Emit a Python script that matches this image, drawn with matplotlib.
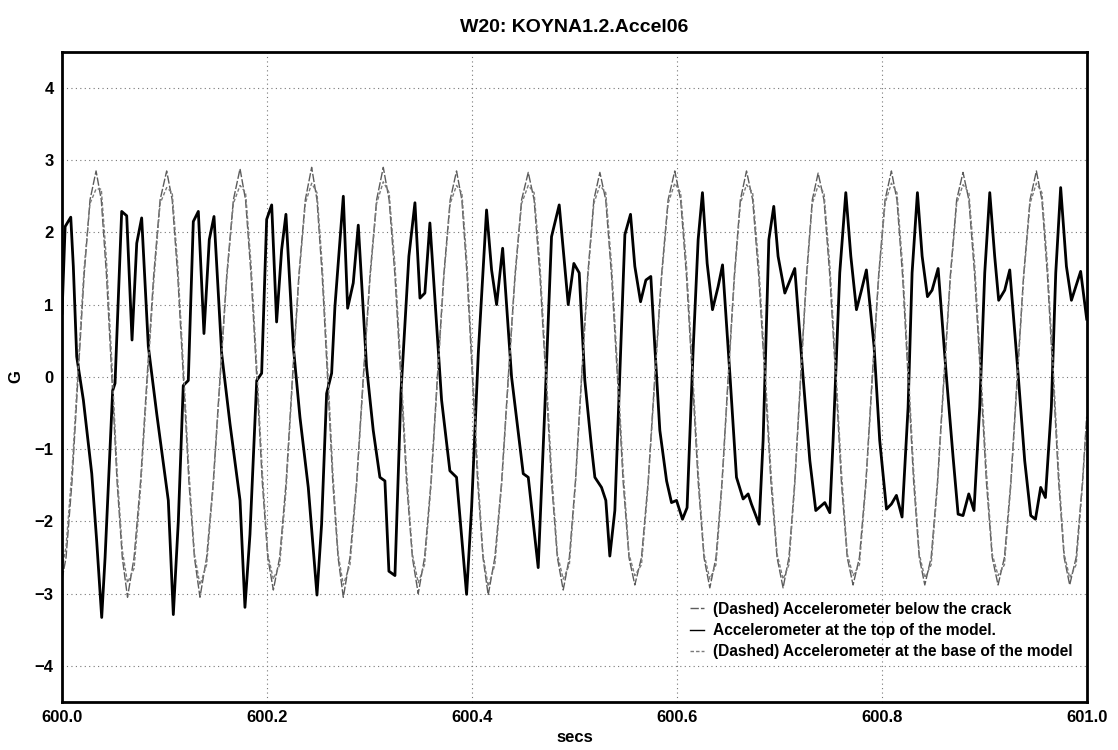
import matplotlib.pyplot as plt

# sample times shared by the two dashed accelerometer traces (s)
t_dash = [
    600.0000, 600.0039, 600.0097, 600.0156, 600.0215, 600.0273, 600.0332,
    600.0383, 600.0434, 600.0486, 600.0537, 600.0588, 600.0639,
    600.0703, 600.0766, 600.0830, 600.0894, 600.0957, 600.1021,
    600.1075, 600.1129, 600.1184, 600.1238, 600.1292, 600.1346,
    600.1411, 600.1476, 600.1542, 600.1607, 600.1672, 600.1737,
    600.1791, 600.1845, 600.1900, 600.1954, 600.2008, 600.2062,
    600.2124, 600.2187, 600.2249, 600.2311, 600.2374, 600.2436,
    600.2488, 600.2539, 600.2591, 600.2642, 600.2694, 600.2745,
    600.2810, 600.2875, 600.2940, 600.3005, 600.3070, 600.3135,
    600.3192, 600.3249, 600.3306, 600.3362, 600.3419, 600.3476,
    600.3538, 600.3601, 600.3663, 600.3725, 600.3788, 600.3850,
    600.3902, 600.3953, 600.4005, 600.4056, 600.4108, 600.4159,
    600.4224, 600.4290, 600.4355, 600.4420, 600.4485, 600.4550,
    600.4607, 600.4664, 600.4721, 600.4777, 600.4834, 600.4891,
    600.4951, 600.5010, 600.5070, 600.5130, 600.5190, 600.5249,
    600.5306, 600.5363, 600.5420, 600.5476, 600.5533, 600.5590,
    600.5655, 600.5720, 600.5785, 600.5850, 600.5915, 600.5980,
    600.6037, 600.6094, 600.6151, 600.6208, 600.6265, 600.6322,
    600.6382, 600.6441, 600.6501, 600.6561, 600.6620, 600.6680,
    600.6740, 600.6799, 600.6859, 600.6918, 600.6978, 600.7037,
    600.7094, 600.7151, 600.7208, 600.7265, 600.7322, 600.7379,
    600.7436, 600.7493, 600.7550, 600.7606, 600.7663, 600.7720,
    600.7782, 600.7845, 600.7907, 600.7969, 600.8032, 600.8094,
    600.8148, 600.8203, 600.8257, 600.8311, 600.8366, 600.8420,
    600.8482, 600.8544, 600.8607, 600.8669, 600.8731, 600.8793,
    600.8850, 600.8907, 600.8964, 600.9021, 600.9078, 600.9135,
    600.9197, 600.9260, 600.9322, 600.9384, 600.9447, 600.9509,
    600.9563, 600.9617, 600.9672, 600.9726, 600.9780, 600.9834,
    600.9897, 600.9959, 601.0000,
]

# (Dashed) accelerometer below the crack (G)
accel_crack = [
    -2.80, -2.50, -1.45, 0.00, 1.40, 2.45, 2.85,
    2.45, 1.40, 0.00, -1.45, -2.50, -3.05,
    -2.50, -1.45, 0.00, 1.40, 2.45, 2.85,
    2.45, 1.40, 0.00, -1.45, -2.50, -3.05,
    -2.50, -1.45, 0.00, 1.40, 2.45, 2.88,
    2.45, 1.40, 0.00, -1.45, -2.50, -2.95,
    -2.50, -1.45, 0.00, 1.40, 2.45, 2.90,
    2.45, 1.40, 0.00, -1.45, -2.50, -3.05,
    -2.50, -1.45, 0.00, 1.40, 2.45, 2.90,
    2.45, 1.40, 0.00, -1.45, -2.50, -3.00,
    -2.50, -1.45, 0.00, 1.40, 2.45, 2.85,
    2.45, 1.40, 0.00, -1.45, -2.50, -3.02,
    -2.50, -1.45, 0.00, 1.40, 2.45, 2.83,
    2.45, 1.40, 0.00, -1.45, -2.50, -2.95,
    -2.50, -1.45, 0.00, 1.40, 2.45, 2.83,
    2.45, 1.40, 0.00, -1.45, -2.50, -2.88,
    -2.50, -1.45, 0.00, 1.40, 2.45, 2.85,
    2.45, 1.40, 0.00, -1.45, -2.50, -2.92,
    -2.50, -1.45, 0.00, 1.40, 2.45, 2.85,
    2.45, 1.40, 0.00, -1.45, -2.50, -2.92,
    -2.50, -1.45, 0.00, 1.40, 2.45, 2.82,
    2.45, 1.40, 0.00, -1.45, -2.50, -2.88,
    -2.50, -1.45, 0.00, 1.40, 2.45, 2.85,
    2.45, 1.40, 0.00, -1.45, -2.50, -2.88,
    -2.50, -1.45, 0.00, 1.40, 2.45, 2.83,
    2.45, 1.40, 0.00, -1.45, -2.50, -2.88,
    -2.50, -1.45, 0.00, 1.40, 2.45, 2.85,
    2.45, 1.40, 0.00, -1.45, -2.50, -2.88,
    -2.50, -1.45, -0.55,
]

# (Dashed) accelerometer at the base of the model (G)
accel_base = [
    -2.65, -2.35, -1.30, 0.10, 1.50, 2.40, 2.60,
    2.60, 1.60, 0.20, -1.30, -2.40, -2.85,
    -2.65, -1.55, -0.10, 1.30, 2.40, 2.62,
    2.55, 1.55, 0.15, -1.30, -2.45, -2.88,
    -2.60, -1.50, -0.05, 1.35, 2.40, 2.65,
    2.55, 1.55, 0.15, -1.30, -2.45, -2.80,
    -2.60, -1.55, -0.05, 1.35, 2.40, 2.68,
    2.55, 1.55, 0.15, -1.30, -2.45, -2.88,
    -2.60, -1.50, -0.05, 1.35, 2.40, 2.70,
    2.55, 1.55, 0.15, -1.30, -2.45, -2.85,
    -2.60, -1.50, -0.05, 1.35, 2.40, 2.65,
    2.55, 1.55, 0.15, -1.30, -2.45, -2.90,
    -2.60, -1.50, -0.05, 1.35, 2.40, 2.65,
    2.55, 1.55, 0.15, -1.30, -2.45, -2.80,
    -2.60, -1.50, -0.05, 1.35, 2.40, 2.65,
    2.55, 1.55, 0.15, -1.30, -2.45, -2.75,
    -2.60, -1.50, -0.05, 1.35, 2.40, 2.68,
    2.55, 1.55, 0.15, -1.30, -2.45, -2.80,
    -2.60, -1.50, -0.05, 1.35, 2.40, 2.66,
    2.55, 1.55, 0.15, -1.30, -2.45, -2.80,
    -2.60, -1.50, -0.05, 1.35, 2.40, 2.65,
    2.55, 1.55, 0.15, -1.30, -2.45, -2.75,
    -2.60, -1.50, -0.05, 1.35, 2.40, 2.68,
    2.55, 1.55, 0.15, -1.30, -2.45, -2.78,
    -2.60, -1.50, -0.05, 1.35, 2.40, 2.66,
    2.55, 1.55, 0.15, -1.30, -2.45, -2.75,
    -2.60, -1.50, -0.05, 1.35, 2.40, 2.68,
    2.55, 1.55, 0.15, -1.30, -2.45, -2.78,
    -2.60, -1.50, -0.60,
]

# accelerometer at the top of the model (solid)
t_top = [
    600.0000, 600.0030, 600.0085, 600.0110, 600.0143, 600.0208, 600.0290,
    600.0338, 600.0387, 600.0420, 600.0468, 600.0494, 600.0517, 600.0582,
    600.0631, 600.0683, 600.0729, 600.0777, 600.0842, 600.0924, 600.1037,
    600.1086, 600.1135, 600.1183, 600.1232, 600.1281, 600.1330, 600.1385,
    600.1437, 600.1483, 600.1558, 600.1639, 600.1737, 600.1785, 600.1834,
    600.1900, 600.1948, 600.1997, 600.2046, 600.2094, 600.2143, 600.2185,
    600.2257, 600.2322, 600.2403, 600.2488, 600.2533, 600.2582, 600.2631,
    600.2663, 600.2745, 600.2787, 600.2842, 600.2891, 600.2972, 600.3037,
    600.3102, 600.3151, 600.3190, 600.3249, 600.3307, 600.3385, 600.3444,
    600.3493, 600.3541, 600.3590, 600.3704, 600.3785, 600.3850, 600.3948,
    600.3997, 600.4062, 600.4143, 600.4192, 600.4241, 600.4300, 600.4387,
    600.4501, 600.4550, 600.4647, 600.4712, 600.4777, 600.4852, 600.4940,
    600.4995, 600.5047, 600.5102, 600.5167, 600.5200, 600.5265, 600.5307,
    600.5346, 600.5395, 600.5444, 600.5493, 600.5548, 600.5590, 600.5646,
    600.5698, 600.5746, 600.5785, 600.5834, 600.5900, 600.5948, 600.5997,
    600.6055, 600.6100, 600.6159, 600.6208, 600.6250, 600.6296, 600.6348,
    600.6403, 600.6446, 600.6517, 600.6582, 600.6647, 600.6696, 600.6728,
    600.6803, 600.6842, 600.6898, 600.6946, 600.6988, 600.7054, 600.7151,
    600.7232, 600.7298, 600.7356, 600.7444, 600.7493, 600.7525, 600.7590,
    600.7649, 600.7698, 600.7753, 600.7802, 600.7850, 600.7925, 600.7980,
    600.8046, 600.8094, 600.8143, 600.8198, 600.8257, 600.8296, 600.8348,
    600.8394, 600.8446, 600.8491, 600.8550, 600.8631, 600.8696, 600.8745,
    600.8793, 600.8849, 600.8900, 600.8956, 600.9005, 600.9054, 600.9102,
    600.9141, 600.9200, 600.9249, 600.9330, 600.9395, 600.9454, 600.9500,
    600.9551, 600.9597, 600.9655, 600.9698, 600.9746, 600.9802, 600.9851,
    600.9941, 601.0000,
]
accel_top = [
    0.88, 2.08, 2.21, 1.53, 0.28, -0.32, -1.34,
    -2.27, -3.33, -2.50, -1.02, -0.19, -0.09, 2.29,
    2.23, 0.51, 1.85, 2.20, 0.42, -0.51, -1.71,
    -3.29, -1.99, -0.12, -0.05, 2.15, 2.29, 0.60,
    1.90, 2.22, 0.32, -0.65, -1.71, -3.19, -2.18,
    -0.05, 0.05, 2.18, 2.38, 0.76, 1.76, 2.25,
    0.42, -0.56, -1.53, -3.02, -2.04, -0.23, 0.05,
    0.97, 2.50, 0.95, 1.30, 2.10, 0.14, -0.74,
    -1.39, -1.44, -2.69, -2.75, -0.23, 1.67, 2.41,
    1.09, 1.16, 2.13, -0.32, -1.30, -1.39, -3.01,
    -1.81, 0.32, 2.31, 1.48, 1.00, 1.78, 0.00,
    -1.34, -1.39, -2.64, -0.42, 1.94, 2.38, 1.00,
    1.57, 1.44, -0.05, -0.97, -1.39, -1.53, -1.71,
    -2.48, -1.85, 0.05, 1.97, 2.25, 1.53, 1.04,
    1.34, 1.39, 0.42, -0.74, -1.44, -1.74, -1.71,
    -1.97, -1.81, 0.37, 1.90, 2.55, 1.57, 0.93,
    1.25, 1.55, 0.05, -1.39, -1.69, -1.62, -1.76,
    -2.04, -0.88, 1.90, 2.36, 1.67, 1.16, 1.50,
    0.00, -1.16, -1.85, -1.74, -1.88, -0.88, 1.44,
    2.55, 1.67, 0.93, 1.20, 1.48, 0.42, -0.88,
    -1.83, -1.76, -1.64, -1.94, -0.42, 1.44, 2.55,
    1.67, 1.11, 1.20, 1.50, 0.00, -1.11, -1.90,
    -1.92, -1.62, -1.85, -0.42, 1.44, 2.55, 1.67,
    1.06, 1.20, 1.48, 0.05, -1.16, -1.92, -1.97,
    -1.53, -1.67, -0.42, 1.44, 2.62, 1.53, 1.06,
    1.46, 0.80,
]

x_ticks = [600.0, 600.2, 600.4, 600.6, 600.8, 601.0]
y_ticks = [-4, -3, -2, -1, 0, 1, 2, 3, 4]

plt.rcParams['font.family'] = ['Liberation Sans', 'DejaVu Sans']
plt.rcParams['font.weight'] = 'bold'

fig, ax = plt.subplots(figsize=(11.18, 7.5), dpi=100)
fig.subplots_adjust(left=0.0555, right=0.972, bottom=0.064, top=0.931)

ax.plot(t_dash, accel_crack, color='#5c5c5c', lw=1.0, ls=(0, (6, 1.5)),
        label='(Dashed) Accelerometer below the crack')
ax.plot(t_top, accel_top, color='black', lw=2.0,
        label='Accelerometer at the top of the model.')
ax.plot(t_dash, accel_base, color='#7a7a7a', lw=1.0, ls=(0, (2.5, 1.5)),
        label='(Dashed) Accelerometer at the base of the model')

ax.set_xlim(600.0, 601.0)
ax.set_ylim(-4.5, 4.5)
ax.set_xticks(x_ticks)
ax.set_xticklabels([f'{v:.1f}' for v in x_ticks])
ax.set_yticks(y_ticks)
ax.tick_params(length=0, labelsize=12, pad=6)
ax.grid(True, color='#777777', ls=(0, (1, 3)), lw=0.8)
for s in ax.spines.values():
    s.set_linewidth(2)

ax.set_title('W20: KOYNA1.2.Accel06', fontsize=14, fontweight='bold', pad=14)
ax.set_xlabel('secs', fontsize=12, fontweight='bold', labelpad=3)
ax.set_ylabel('G', fontsize=12, fontweight='bold', labelpad=8)

leg = ax.legend(loc='lower right', bbox_to_anchor=(0.997, 0.049), frameon=False,
                fontsize=11.2, handlelength=0.9, handletextpad=0.6,
                labelspacing=0.4, borderpad=0.2)
for line in leg.get_lines():
    line.set_linewidth(1.0)

plt.savefig('out.png', dpi=100)
plt.close()
